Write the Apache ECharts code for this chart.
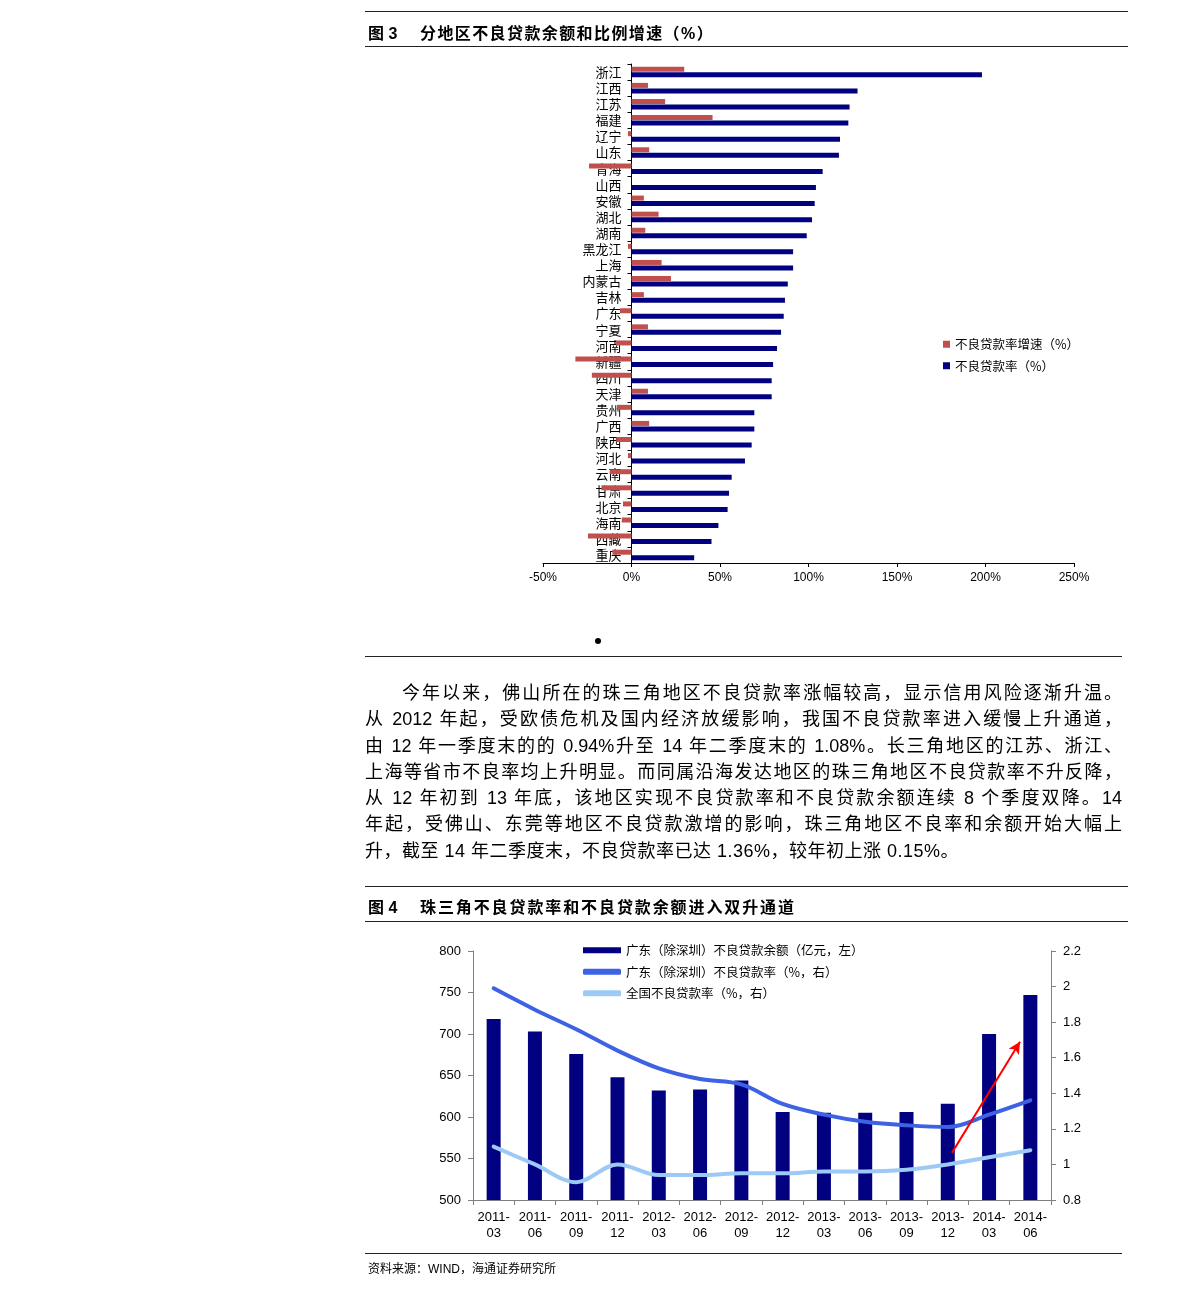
<!DOCTYPE html>
<html><head><meta charset="utf-8">
<script src="https://cdn.jsdelivr.net/npm/echarts@6/dist/echarts.min.js"></script>
<style>
html,body{margin:0;padding:0;background:#fff;}
#page{position:relative;width:1191px;height:1298px;overflow:hidden;}
#chart{position:absolute;left:0;top:0;width:1191px;height:1298px;}
.rule{position:absolute;height:0;border-top:1px solid #222;}
.title{position:absolute;font-family:"Liberation Sans","Noto Sans CJK SC",sans-serif;font-weight:bold;font-size:16px;color:#000;white-space:pre;}
.para{position:absolute;left:365px;width:757px;font-family:"Liberation Sans","Noto Sans CJK SC",sans-serif;font-size:18px;color:#000;}
.para div{height:26.3px;line-height:26.3px;text-align:justify;text-align-last:justify;white-space:nowrap;}
.para div.last{text-align-last:left;letter-spacing:0.5px;}
.src{position:absolute;left:368px;top:1259px;font-family:"Liberation Sans","Noto Sans CJK SC",sans-serif;font-size:12px;color:#000;}
.dot{position:absolute;left:595px;top:638px;width:6px;height:6px;border-radius:50%;background:#000;}
</style></head>
<body><div id="page">
<div id="chart"></div>
<div class="rule" style="left:365px;top:11px;width:763px;"></div>
<div class="title" style="left:368px;top:20px;">图 3</div>
<div class="title" style="left:420px;top:20px;letter-spacing:1.4px;">分地区不良贷款余额和比例增速（%）</div>
<div class="rule" style="left:365px;top:46px;width:763px;"></div>
<div class="dot"></div>
<div class="rule" style="left:365px;top:656px;width:757px;"></div>
<div class="para" style="top:680px;">
<div style="padding-left:37px;">今年以来，佛山所在的珠三角地区不良贷款率涨幅较高，显示信用风险逐渐升温。</div>
<div>从 2012 年起，受欧债危机及国内经济放缓影响，我国不良贷款率进入缓慢上升通道，</div>
<div>由 12 年一季度末的的 0.94%升至 14 年二季度末的 1.08%。长三角地区的江苏、浙江、</div>
<div>上海等省市不良率均上升明显。而同属沿海发达地区的珠三角地区不良贷款率不升反降，</div>
<div>从 12 年初到 13 年底，该地区实现不良贷款率和不良贷款余额连续 8 个季度双降。14</div>
<div>年起，受佛山、东莞等地区不良贷款激增的影响，珠三角地区不良率和余额开始大幅上</div>
<div class="last">升，截至 14 年二季度末，不良贷款率已达 1.36%，较年初上涨 0.15%。</div>
</div>
<div class="rule" style="left:365px;top:886px;width:763px;"></div>
<div class="title" style="left:368px;top:894px;">图 4</div>
<div class="title" style="left:420px;top:894px;letter-spacing:1.9px;">珠三角不良贷款率和不良贷款余额进入双升通道</div>
<div class="rule" style="left:365px;top:921px;width:763px;"></div>
<div class="rule" style="left:365px;top:1253px;width:757px;"></div>
<div class="src">资料来源：WIND，海通证券研究所</div>
</div>
<script>
// ---- Chart 1 data ----
const provinces = ['浙江','江西','江苏','福建','辽宁','山东','青海','山西','安徽','湖北','湖南','黑龙江','上海','内蒙古','吉林','广东','宁夏','河南','新疆','四川','天津','贵州','广西','陕西','河北','云南','甘肃','北京','海南','西藏','重庆'];
const growthRate = [29.8,9.3,19,45.8,-2,10,-24,0,7,15.3,7.8,-2,17,22.3,7,-6.5,9.3,-8.7,-31.7,-22.4,9.3,-8.2,10,-8.6,-2,-12.3,-17,-4.8,-5.5,-24.6,-10.8];
const nplRate = [198,127.7,123.2,122.5,117.8,117.2,108,104.2,103.5,102,99,91.3,91.3,88.3,86.7,86,84.5,82.2,80,79.2,79.2,69.4,69.4,67.9,64.1,56.6,55.1,54.3,49.1,45.2,35.4];
const pctTicks = {min:-50, max:250, interval:50};
const legend1Names = ['不良贷款率增速（%）','不良贷款率（%）'];

// ---- Chart 2 data ----
const quarters = ['2011-03','2011-06','2011-09','2011-12','2012-03','2012-06','2012-09','2012-12','2013-03','2013-06','2013-09','2013-12','2014-03','2014-06'];
const gdBalance = [718,703,676,648,632,633,644,606,605,605,606,616,700,747];
const gdRate = [1.99,1.87,1.76,1.64,1.54,1.48,1.45,1.34,1.28,1.24,1.22,1.21,1.28,1.36];
const cnRate = [1.10,1.00,0.90,1.00,0.94,0.94,0.95,0.95,0.96,0.96,0.97,1.00,1.04,1.08];
const leftTicks = {min:500, max:800, interval:50};
const rightTicks = {min:0.8, max:2.2, interval:0.2};
const legend2Names = ['广东（除深圳）不良贷款余额（亿元，左）','广东（除深圳）不良贷款率（%，右）','全国不良贷款率（%，右）'];
const arrowFrom = [11.1, 1.065];
const arrowTo = [12.75, 1.69];

const CJK = '"Noto Sans CJK SC", sans-serif';
const LAT = '"Liberation Sans", "Noto Sans CJK SC", sans-serif';

const grid1 = {left:543, top:64, width:531, height:499};
// distance from grid left edge to the 0% position, so the category axis sits at 0%
const zeroOffset = grid1.width * (0 - pctTicks.min) / (pctTicks.max - pctTicks.min);

const chart = echarts.init(document.getElementById('chart'), null, {renderer:'canvas'});
chart.setOption({
  animation:false,
  backgroundColor:'transparent',
  legend:[
    {left:938, top:333, orient:'vertical', itemWidth:7, itemHeight:7, itemGap:9,
     textStyle:{fontFamily:CJK, fontSize:12.5, color:'#000'},
     data:[{name:legend1Names[0], icon:'rect'},{name:legend1Names[1], icon:'rect'}]},
    {left:578, top:939, orient:'vertical', itemWidth:38, itemHeight:6, itemGap:9,
     textStyle:{fontFamily:CJK, fontSize:12.5, color:'#000'},
     data:[{name:legend2Names[0], icon:'rect'},{name:legend2Names[1], icon:'roundRect'},{name:legend2Names[2], icon:'roundRect'}]}
  ],
  grid:[
    grid1,
    {left:473, top:951, width:578, height:249}
  ],
  xAxis:[
    {gridIndex:0, type:'value', min:pctTicks.min, max:pctTicks.max, interval:pctTicks.interval,
     axisLine:{show:true, onZero:false, lineStyle:{color:'#000', width:1}},
     axisTick:{show:true, length:4, lineStyle:{color:'#000'}},
     splitLine:{show:false},
     axisLabel:{formatter:'{value}%', fontFamily:LAT, fontSize:12, color:'#000', margin:9}},
    {gridIndex:1, type:'category', data:quarters, boundaryGap:true,
     axisLine:{show:true, onZero:false, lineStyle:{color:'#808080'}},
     axisTick:{show:true, length:5, lineStyle:{color:'#808080'}},
     axisLabel:{fontFamily:LAT, fontSize:13, color:'#000', lineHeight:16, margin:9, interval:0,
       formatter:v=>v.replace('-', '-\n')}},
    {gridIndex:1, type:'value', min:-0.5, max:13.5, show:false}
  ],
  yAxis:[
    {gridIndex:0, type:'category', data:provinces, inverse:true, offset:-zeroOffset,
     axisLine:{show:true, onZero:false, lineStyle:{color:'#000'}},
     axisTick:{show:true, length:4, inside:false, lineStyle:{color:'#000'}},
     axisLabel:{fontFamily:CJK, fontSize:13, color:'#000', margin:10, interval:0}},
    {gridIndex:1, type:'value', min:leftTicks.min, max:leftTicks.max, interval:leftTicks.interval, position:'left',
     axisLine:{show:true, onZero:false, lineStyle:{color:'#808080'}},
     axisTick:{show:true, length:5, lineStyle:{color:'#808080'}},
     splitLine:{show:false},
     axisLabel:{fontFamily:LAT, fontSize:13, color:'#000', margin:12}},
    {gridIndex:1, type:'value', min:rightTicks.min, max:rightTicks.max, interval:rightTicks.interval, position:'right',
     axisLine:{show:true, onZero:false, lineStyle:{color:'#808080'}},
     axisTick:{show:true, length:5, lineStyle:{color:'#808080'}},
     splitLine:{show:false},
     axisLabel:{fontFamily:LAT, fontSize:13, color:'#000', margin:12,
       formatter:v=>String(Math.round(v*10)/10)}}
  ],
  series:[
    {name:legend1Names[0], type:'bar', xAxisIndex:0, yAxisIndex:0, data:growthRate,
     barWidth:5, barGap:'10%', itemStyle:{color:'#C0504D'}, z:3},
    {name:legend1Names[1], type:'bar', xAxisIndex:0, yAxisIndex:0, data:nplRate,
     barWidth:5, barGap:'10%', itemStyle:{color:'#000080'}, z:3},
    {name:legend2Names[0], type:'bar', xAxisIndex:1, yAxisIndex:1, data:gdBalance,
     barWidth:14, itemStyle:{color:'#000080'}},
    {name:legend2Names[1], type:'line', xAxisIndex:1, yAxisIndex:2, data:gdRate,
     smooth:0.35, showSymbol:false, symbol:'none', lineStyle:{color:'#3D62E3', width:4, cap:'round'}, itemStyle:{color:'#3D62E3'}, z:4},
    {name:legend2Names[2], type:'line', xAxisIndex:1, yAxisIndex:2, data:cnRate,
     smooth:0.35, showSymbol:false, symbol:'none', lineStyle:{color:'#9CC9F5', width:4, cap:'round'}, itemStyle:{color:'#9CC9F5'}, z:4},
    {name:'arrow', type:'line', xAxisIndex:2, yAxisIndex:2, data:[arrowFrom, arrowTo],
     showSymbol:false, symbol:'none', lineStyle:{width:0, opacity:0}, silent:true, z:6,
     markLine:{silent:true, symbol:['none','arrow'], symbolSize:[9,12], label:{show:false},
       lineStyle:{color:'#FF0000', width:2, type:'solid'},
       data:[[{coord:arrowFrom},{coord:arrowTo}]]}}
  ]
});
</script>
</body></html>
